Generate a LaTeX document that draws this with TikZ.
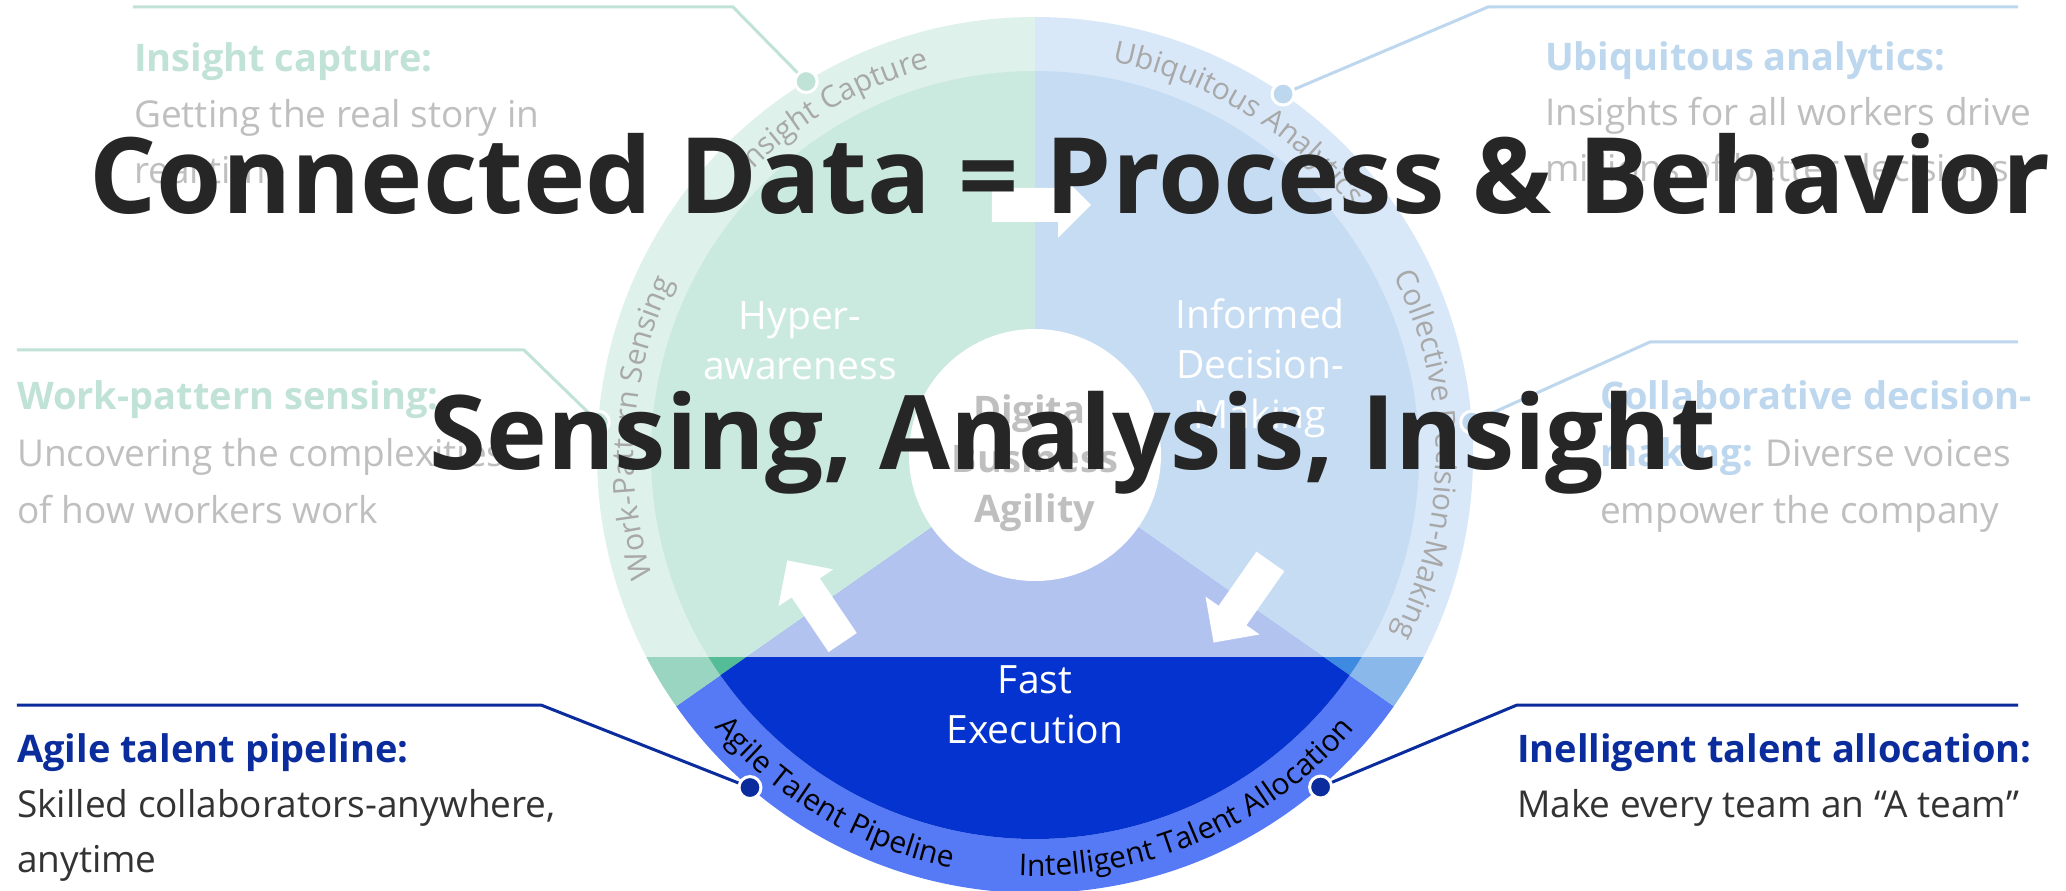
\documentclass[tikz,border=0pt]{standalone}
\usepackage{fontspec}
\setmainfont{Open Sans}
\usetikzlibrary{decorations.text}
\definecolor{gring}{HTML}{DEF1EA}
\definecolor{ginner}{HTML}{CBEADF}
\definecolor{bring}{HTML}{D9E8F8}
\definecolor{binner}{HTML}{C5DCF3}
\definecolor{lav}{HTML}{B3C3F0}
\definecolor{medblue}{HTML}{5679F5}
\definecolor{darkblue}{HTML}{0433D0}
\definecolor{gband}{HTML}{99D5C0}
\definecolor{gbandin}{HTML}{55BC98}
\definecolor{bband}{HTML}{8AB8EB}
\definecolor{bbandin}{HTML}{3D8AE0}
\definecolor{lightgreen}{HTML}{C1E2D6}
\definecolor{lightblue}{HTML}{BDD7EE}
\definecolor{navy}{HTML}{0B2C9C}
\definecolor{txtgray}{HTML}{BFBFBF}
\definecolor{ringgray}{HTML}{A8A8A8}
\definecolor{darktxt}{HTML}{333333}
\definecolor{titlecol}{HTML}{262626}
\newcommand\myringfont{\fontsize{30}{36}\selectfont}
\begin{document}
\begin{tikzpicture}[x=1pt,y=1pt,
  head/.style={anchor=base west, inner sep=0pt, font=\fontsize{38}{46}\selectfont\bfseries},
  body/.style={anchor=base west, inner sep=0pt, font=\fontsize{37}{46}\selectfont},
  seclabel/.style={anchor=base, inner sep=0pt, text=white, font=\fontsize{39}{47}\selectfont},
  hublabel/.style={anchor=base, inner sep=0pt, text=txtgray, font=\fontsize{38}{46}\selectfont\bfseries},
  titletext/.style={anchor=base, inner sep=0pt, text=titlecol, font=\fontsize{#1}{120}\selectfont\bfseries},
  leader/.style={line width=3pt},
  dot/.style={circle, draw=white, line width=3pt, minimum size=22pt, inner sep=0pt},
  ringtext/.style={decorate, decoration={text along path, text align=center, text={#1}}},
  blockarrow/.pic={\fill[white] (-49.5,-17) -- (16.5,-17) -- (16.5,-33) -- (49.5,0) -- (16.5,33) -- (16.5,17) -- (-49.5,17) -- cycle;}
]
\useasboundingbox (-1035,-436) rectangle (1031,455);
\fill[white] (-1035,-436) rectangle (1031,455);

% sectors with outer rings
\fill[gring] (0,0) -- (90:438) arc[start angle=90, end angle=215, radius=438] -- cycle;
\fill[bring] (0,0) -- (-35:438) arc[start angle=-35, end angle=90, radius=438] -- cycle;
\fill[medblue] (0,0) -- (215:438) arc[start angle=215, end angle=325, radius=438] -- cycle;
\fill[ginner] (0,0) -- (90:384) arc[start angle=90, end angle=215, radius=384] -- cycle;
\fill[binner] (0,0) -- (-35:384) arc[start angle=-35, end angle=90, radius=384] -- cycle;
\fill[lav] (0,0) -- (215:384) arc[start angle=215, end angle=325, radius=384] -- cycle;

% lower band
\begin{scope}
  \clip (-460,-202) rectangle (460,-460);
  \fill[gband] (0,0) -- (90:438) arc[start angle=90, end angle=215, radius=438] -- cycle;
  \fill[gbandin] (0,0) -- (90:384) arc[start angle=90, end angle=215, radius=384] -- cycle;
  \fill[bband] (0,0) -- (-35:438) arc[start angle=-35, end angle=90, radius=438] -- cycle;
  \fill[bbandin] (0,0) -- (-35:384) arc[start angle=-35, end angle=90, radius=384] -- cycle;
  \fill[darkblue] (0,0) -- (215:384) arc[start angle=215, end angle=325, radius=384] -- cycle;
\end{scope}

% hub
\fill[white] (0,0) circle[radius=126];

% cycle arrows
\pic (arrTop) at (6.5,250) {blockarrow};
\pic[rotate=124] (arrLeft) at (-220,-146.5) {blockarrow};
\pic[rotate=-125] (arrRight) at (207,-147) {blockarrow};

% ring labels
\path[ringtext={|\myringfont\color{ringgray}|Insight Capture}] (160.5:401) arc[start angle=160.5, end angle=80.5, radius=401];
\path[ringtext={|\myringfont\color{ringgray}|Ubiquitous Analytics}] (98.5:401) arc[start angle=98.5, end angle=18.5, radius=401];
\path[ringtext={|\myringfont\color{ringgray}|Collective Decision-Making}] (45:401) arc[start angle=45, end angle=-45, radius=401];
\path[ringtext={|\myringfont\color{ringgray}|Work-Pattern Sensing}] (216:401) arc[start angle=216, end angle=136, radius=401];
\path[ringtext={|\myringfont\color{black}|Agile Talent Pipeline}] (209.5:421) arc[start angle=209.5, end angle=269.5, radius=421];
\path[ringtext={|\myringfont\color{black}|Intelligent Talent Allocation}] (262.6:421) arc[start angle=262.6, end angle=324.6, radius=421];

% sector labels
\node[seclabel] (hy1) at (-235,125) {Hyper-};
\node[seclabel] (hy2) at (-235,75) {awareness};
\node[seclabel] (in1) at (225,126) {Informed};
\node[seclabel] (in2) at (225,76) {Decision-};
\node[seclabel] (in3) at (225,26) {Making};
\node[seclabel] (fe1) at (0,-238) {Fast};
\node[seclabel] (fe2) at (0,-288) {Execution};
\node[hublabel] (hub1) at (0,31) {Digital};
\node[hublabel] (hub2) at (0,-18) {Business};
\node[hublabel] (hub3) at (0,-67) {Agility};

% leader dots and lines
\node[dot, fill=lightgreen] (dotTL) at (121.5:438) {};
\node[dot, fill=lightgreen] (dotML) at (175.7:438) {};
\node[dot, fill=navy] (dotBL) at (229.4:438) {};
\node[dot, fill=lightblue] (dotTR) at (55.5:438) {};
\node[dot, fill=lightblue] (dotMR) at (4.3:438) {};
\node[dot, fill=navy] (dotBR) at (-49.3:438) {};
\coordinate (aTL) at (-902,448); \coordinate (bTL) at (-302,448);
\coordinate (aML) at (-1018,105); \coordinate (bML) at (-511,105);
\coordinate (aBL) at (-1018,-250); \coordinate (bBL) at (-494,-250);
\coordinate (aTR) at (983,448); \coordinate (bTR) at (453,448);
\coordinate (aMR) at (983,113); \coordinate (bMR) at (615,113);
\coordinate (aBR) at (983,-250); \coordinate (bBR) at (482,-250);
\draw[leader, lightgreen] (aTL) -- (bTL) -- (dotTL);
\draw[leader, lightgreen] (aML) -- (bML) -- (dotML);
\draw[leader, navy] (aBL) -- (bBL) -- (dotBL);
\draw[leader, lightblue] (aTR) -- (bTR) -- (dotTR);
\draw[leader, lightblue] (aMR) -- (bMR) -- (dotMR);
\draw[leader, navy] (aBR) -- (bBR) -- (dotBR);

% left texts
\node[head, text=lightgreen] (hIC) at (-901,383) {Insight capture:};
\node[body, text=txtgray] (tIC1) at (-901,327) {Getting the real story in};
\node[body, text=txtgray] (tIC2) at (-901,271) {real time};
\node[head, text=lightgreen] (hWP) at (-1018,45) {Work-pattern sensing:};
\node[body, text=txtgray] (tWP1) at (-1018,-12) {Uncovering the complexities};
\node[body, text=txtgray] (tWP2) at (-1018,-68) {of how workers work};
\node[head, text=navy] (hAT) at (-1018,-307) {Agile talent pipeline:};
\node[body, text=darktxt] (tAT1) at (-1018,-362) {Skilled collaborators-anywhere,};
\node[body, text=darktxt] (tAT2) at (-1018,-417) {anytime};

% right texts
\node[head, text=lightblue] (hUA) at (510,384) {Ubiquitous analytics:};
\node[body, text=txtgray] (tUA1) at (510,329) {Insights for all workers drive};
\node[body, text=txtgray] (tUA2) at (510,273) {millions of better decisions};
\node[head, text=lightblue] (hCD) at (565,45) {Collaborative decision-};
\node[body, text=txtgray] (tCD1) at (565,-12) {{\bfseries\fontsize{38}{46}\selectfont\color{lightblue}making:} Diverse voices};
\node[body, text=txtgray] (tCD2) at (565,-68) {empower the company};
\node[head, text=navy] (hIT) at (482,-307) {Inelligent talent allocation:};
\node[body, text=darktxt] (tIT1) at (482,-362) {Make every team an “A team”};

% title
\node[titletext=105.5] (title1) at (35,241) {Connected Data = Process \& Behavior};
\node[titletext=103] (title2) at (38,-15) {Sensing, Analysis, Insight};
\end{tikzpicture}
\end{document}
